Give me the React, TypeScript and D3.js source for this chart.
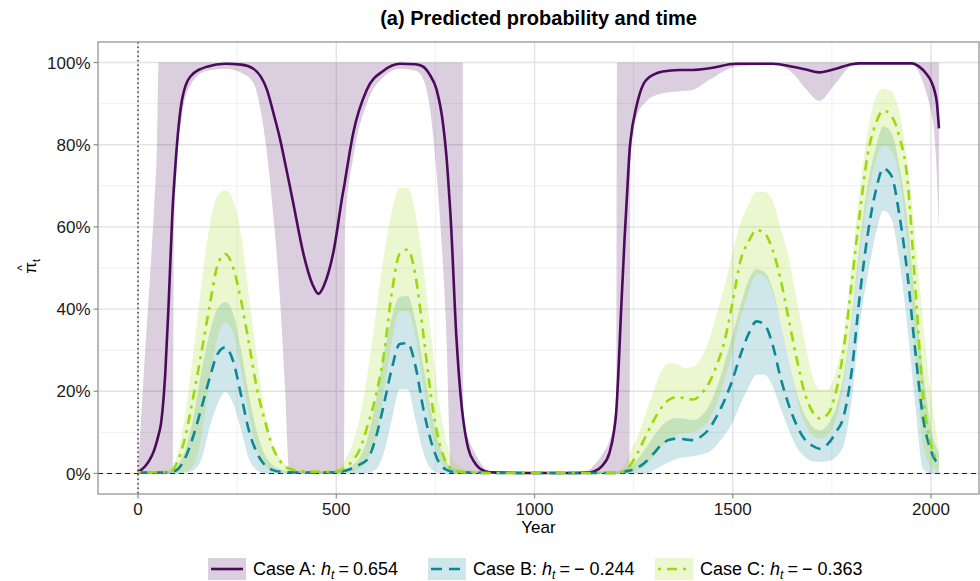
import React from 'react';
import * as d3 from 'd3';

// Case A knots (years) and predicted probability with interval
const yearsA = [
  0, 10, 20, 31, 40, 48, 52, 57, 69, 77,
  86, 88, 90, 99, 111, 132, 174, 220, 260, 291,
  310, 325, 342, 359, 371, 382, 392, 417, 440, 455,
  470, 493, 518, 520, 522, 543, 577, 619, 661, 700,
  719, 736, 753, 770, 778, 786, 788, 803, 816, 819,
  821, 833, 850, 862, 887, 1000, 1100, 1131, 1150, 1170,
  1189, 1200, 1206, 1208, 1219, 1227, 1238, 1240, 1242, 1257,
  1282, 1323, 1366, 1400, 1441, 1508, 1600, 1651, 1685, 1718,
  1760, 1800, 1819, 1952, 1970, 1987, 2000, 2008, 2015, 2020,
];
const aMid = [
  0.003, 0.01, 0.02, 0.036, 0.055, 0.08, 0.095, 0.116, 0.25, 0.41,
  0.62, 0.66, 0.69, 0.81, 0.91, 0.966, 0.99, 0.997, 0.995, 0.985,
  0.965, 0.934, 0.875, 0.81, 0.755, 0.703, 0.655, 0.535, 0.46, 0.437,
  0.46, 0.54, 0.69, 0.7, 0.712, 0.83, 0.934, 0.98, 0.997, 0.996,
  0.99, 0.97, 0.934, 0.845, 0.77, 0.66, 0.63, 0.33, 0.166, 0.14,
  0.125, 0.06, 0.025, 0.012, 0.003, 0.001, 0.001, 0.002, 0.005, 0.018,
  0.05, 0.1, 0.15, 0.18, 0.41, 0.57, 0.76, 0.79, 0.81, 0.893,
  0.958, 0.978, 0.982, 0.982, 0.986, 0.997, 0.997, 0.99, 0.983, 0.976,
  0.985, 0.996, 0.998, 0.998, 0.99, 0.974, 0.955, 0.934, 0.9, 0.84,
];
const aLo = [
  0, 0, 0, 0, 0, 0, 0, 0, 0, 0,
  0, 0, 0.55, 0.76, 0.87, 0.945, 0.98, 0.985, 0.975, 0.95,
  0.88, 0.78, 0.62, 0.41, 0.2, 0, 0, 0, 0, 0,
  0, 0, 0, 0, 0.6, 0.77, 0.9, 0.965, 0.985, 0.98,
  0.96, 0.89, 0.73, 0.49, 0.33, 0.06, 0, 0, 0, 0,
  0, 0, 0, 0, 0, 0, 0, 0, 0, 0,
  0, 0, 0, 0, 0, 0, 0, 0, 0.76, 0.865,
  0.905, 0.925, 0.93, 0.934, 0.958, 0.99, 0.995, 0.974, 0.935, 0.907,
  0.95, 0.993, 0.996, 0.996, 0.975, 0.93, 0.88, 0.83, 0.72, 0.594,
];
const aHi = [
  0.003, 0.17, 0.33, 0.49, 0.64, 0.81, 1, 1, 1, 1,
  1, 1, 1, 1, 1, 1, 1, 1, 1, 1,
  1, 1, 1, 1, 1, 1, 1, 1, 1, 1,
  1, 1, 1, 1, 1, 1, 1, 1, 1, 1,
  1, 1, 1, 1, 1, 1, 1, 1, 1, 1,
  0.13, 0.085, 0.05, 0.028, 0.006, 0.002, 0.003, 0.006, 0.02, 0.045,
  0.08, 0.12, 0.16, 1, 1, 1, 1, 1, 1, 1,
  1, 1, 1, 1, 1, 1, 1, 1, 1, 1,
  1, 1, 1, 1, 1, 1, 1, 1, 1, 1,
];

// Cases B and C share one grid of years
const yearsBC = [
  0, 40, 80, 100, 120, 140, 160, 180, 200, 220, 240, 260, 280, 300, 320, 340, 360, 380,
  420, 460, 500, 520, 540, 560, 580, 600, 620, 640, 660, 680, 700, 720, 740, 760, 780, 800,
  840, 900, 1000, 1100, 1160, 1200, 1220, 1240, 1260, 1280, 1300, 1320, 1340, 1360, 1380, 1400, 1420, 1440,
  1460, 1480, 1500, 1520, 1540, 1560, 1580, 1600, 1620, 1640, 1660, 1680, 1700, 1720, 1740, 1760, 1780, 1800,
  1820, 1840, 1860, 1880, 1900, 1920, 1940, 1960, 1980, 2000, 2020,
];
const bMid = [
  0.002, 0.002, 0.003, 0.01, 0.04, 0.093, 0.16, 0.23, 0.29, 0.307, 0.273, 0.19, 0.103, 0.05, 0.02, 0.008, 0.004, 0.003,
  0.002, 0.002, 0.003, 0.006, 0.012, 0.022, 0.036, 0.088, 0.168, 0.255, 0.315, 0.317, 0.26, 0.155, 0.075, 0.025, 0.008, 0.003,
  0.002, 0.001, 0.001, 0.001, 0.001, 0.001, 0.003, 0.007, 0.014, 0.028, 0.048, 0.07, 0.082, 0.085, 0.083, 0.081, 0.09, 0.108,
  0.14, 0.18, 0.23, 0.29, 0.34, 0.37, 0.362, 0.315, 0.235, 0.17, 0.12, 0.085, 0.068, 0.06, 0.072, 0.1, 0.14, 0.25,
  0.43, 0.58, 0.685, 0.742, 0.725, 0.63, 0.49, 0.3, 0.135, 0.055, 0.02,
];
const bLo = [
  0, 0, 0, 0, 0.002, 0.008, 0.035, 0.11, 0.168, 0.198, 0.17, 0.105, 0.035, 0.008, 0.001, 0, 0, 0,
  0, 0, 0, 0, 0, 0, 0.002, 0.01, 0.05, 0.13, 0.205, 0.205, 0.13, 0.05, 0.01, 0.001, 0, 0,
  0, 0, 0, 0, 0, 0, 0, 0, 0, 0, 0.008, 0.018, 0.028, 0.036, 0.04, 0.042, 0.046, 0.052,
  0.07, 0.095, 0.125, 0.17, 0.21, 0.24, 0.24, 0.214, 0.16, 0.11, 0.065, 0.042, 0.03, 0.028, 0.03, 0.04, 0.07, 0.18,
  0.36, 0.48, 0.58, 0.64, 0.62, 0.52, 0.36, 0.17, 0.01, 0, 0,
];
const bHi = [
  0.004, 0.004, 0.005, 0.02, 0.06, 0.14, 0.25, 0.34, 0.4, 0.417, 0.39, 0.3, 0.19, 0.1, 0.045, 0.02, 0.01, 0.006,
  0.005, 0.005, 0.006, 0.01, 0.02, 0.04, 0.09, 0.18, 0.29, 0.38, 0.43, 0.432, 0.37, 0.26, 0.15, 0.07, 0.025, 0.01,
  0.005, 0.004, 0.004, 0.004, 0.004, 0.004, 0.008, 0.015, 0.035, 0.06, 0.09, 0.115, 0.13, 0.135, 0.133, 0.13, 0.14, 0.165,
  0.21, 0.27, 0.34, 0.41, 0.47, 0.497, 0.49, 0.45, 0.37, 0.28, 0.2, 0.145, 0.115, 0.105, 0.12, 0.16, 0.24, 0.38,
  0.56, 0.7, 0.79, 0.845, 0.83, 0.75, 0.62, 0.42, 0.25, 0.11, 0.05,
];
const cMid = [
  0.003, 0.003, 0.004, 0.03, 0.093, 0.19, 0.295, 0.405, 0.505, 0.534, 0.5, 0.42, 0.315, 0.206, 0.128, 0.063, 0.028, 0.012,
  0.005, 0.004, 0.005, 0.012, 0.03, 0.06, 0.12, 0.19, 0.29, 0.44, 0.535, 0.545, 0.48, 0.335, 0.18, 0.075, 0.022, 0.006,
  0.002, 0.001, 0.001, 0.001, 0.001, 0.001, 0.003, 0.018, 0.05, 0.09, 0.128, 0.16, 0.18, 0.186, 0.183, 0.18, 0.193, 0.22,
  0.265, 0.325, 0.42, 0.52, 0.565, 0.592, 0.585, 0.545, 0.475, 0.38, 0.285, 0.2, 0.152, 0.134, 0.145, 0.198, 0.305, 0.465,
  0.63, 0.775, 0.85, 0.883, 0.87, 0.82, 0.72, 0.46, 0.19, 0.07, 0.03,
];
const cLo = [
  0, 0, 0, 0.001, 0.005, 0.02, 0.09, 0.22, 0.33, 0.368, 0.34, 0.25, 0.14, 0.06, 0.02, 0.006, 0.002, 0.001,
  0.001, 0.001, 0.001, 0.002, 0.004, 0.012, 0.035, 0.09, 0.2, 0.32, 0.395, 0.395, 0.33, 0.21, 0.1, 0.035, 0.01, 0.003,
  0.001, 0, 0, 0, 0, 0, 0, 0.002, 0.008, 0.02, 0.04, 0.065, 0.085, 0.095, 0.098, 0.1, 0.11, 0.13,
  0.17, 0.23, 0.3, 0.38, 0.44, 0.485, 0.48, 0.44, 0.37, 0.28, 0.19, 0.125, 0.095, 0.085, 0.095, 0.13, 0.22, 0.37,
  0.53, 0.67, 0.76, 0.8, 0.785, 0.72, 0.56, 0.28, 0.07, 0.015, 0.005,
];
const cHi = [
  0.005, 0.006, 0.01, 0.05, 0.15, 0.3, 0.46, 0.6, 0.675, 0.69, 0.665, 0.58, 0.43, 0.28, 0.15, 0.07, 0.035, 0.018,
  0.006, 0.005, 0.008, 0.03, 0.07, 0.14, 0.25, 0.39, 0.53, 0.635, 0.695, 0.695, 0.63, 0.5, 0.33, 0.17, 0.07, 0.025,
  0.008, 0.005, 0.005, 0.005, 0.005, 0.005, 0.01, 0.05, 0.09, 0.145, 0.2, 0.25, 0.268, 0.265, 0.256, 0.26, 0.28, 0.325,
  0.39, 0.46, 0.54, 0.61, 0.655, 0.685, 0.685, 0.665, 0.6, 0.53, 0.43, 0.33, 0.24, 0.203, 0.205, 0.25, 0.34, 0.51,
  0.69, 0.83, 0.915, 0.937, 0.93, 0.88, 0.76, 0.58, 0.37, 0.19, 0.06,
];

const xTicks = [0, 500, 1000, 1500, 2000];
const xMinor = [250, 750, 1250, 1750];
const yTicks = [0, 0.2, 0.4, 0.6, 0.8, 1];
const yMinor = [0.1, 0.3, 0.5, 0.7, 0.9];

const series = [
  { key: 'A', years: yearsA, mid: aMid, lo: aLo, hi: aHi, color: '#4b0a5c', dash: null, label: 'Case A: ', value: '0.654' },
  { key: 'B', years: yearsBC, mid: bMid, lo: bLo, hi: bHi, color: '#0e8795', dash: '11 7', label: 'Case B: ', value: '\u2212 0.244' },
  { key: 'C', years: yearsBC, mid: cMid, lo: cLo, hi: cHi, color: '#9ad90c', dash: '3 6 10 6', label: 'Case C: ', value: '\u2212 0.363' },
];

const W = 980;
const H = 581;
const panel = { left: 98, right: 979, top: 42, bottom: 494 };
const font = '"Liberation Sans", Arial, Helvetica, sans-serif';

export default function App() {
  const x = d3.scaleLinear().domain([-101, 2121]).range([panel.left, panel.right]);
  const y = d3.scaleLinear().domain([-0.05, 1.05]).range([panel.bottom, panel.top]);

  const legendX = [208, 428, 655];

  return (
    <svg width={W} height={H} style={{ position: 'absolute', left: 0, top: 0, background: '#fff' }} fontFamily={font}>
      <defs>
        <clipPath id="panel-clip">
          <rect x={panel.left} y={panel.top} width={panel.right - panel.left} height={panel.bottom - panel.top} />
        </clipPath>
      </defs>
      <rect x={0} y={0} width={W} height={H} fill="#fff" />

      {/* grid */}
      {yMinor.map(v => (
        <line key={'ym' + v} x1={panel.left} x2={panel.right} y1={y(v)} y2={y(v)} stroke="#ececec" strokeWidth={0.8} />
      ))}
      {xMinor.map(v => (
        <line key={'xm' + v} x1={x(v)} x2={x(v)} y1={panel.top} y2={panel.bottom} stroke="#ececec" strokeWidth={0.8} />
      ))}
      {yTicks.map(v => (
        <line key={'yg' + v} x1={panel.left} x2={panel.right} y1={y(v)} y2={y(v)} stroke="#e3e3e3" strokeWidth={1.4} />
      ))}
      {xTicks.map(v => (
        <line key={'xg' + v} x1={x(v)} x2={x(v)} y1={panel.top} y2={panel.bottom} stroke="#e3e3e3" strokeWidth={1.4} />
      ))}

      <g clipPath="url(#panel-clip)">
        <line x1={panel.left} x2={panel.right} y1={y(0)} y2={y(0)} stroke="#222" strokeWidth={1.1} strokeDasharray="5 4" />
        <line x1={x(0)} x2={x(0)} y1={panel.top} y2={panel.bottom} stroke="#222" strokeWidth={1.3} strokeDasharray="1.5 3" />

        {series.map(s => {
          const area = d3.area<number>()
            .x(i => x(s.years[i]))
            .y0(i => y(s.lo[i]))
            .y1(i => y(s.hi[i]))
            .curve(d3.curveMonotoneX);
          return <path key={'r' + s.key} d={area(d3.range(s.years.length)) || ''} fill={s.color} fillOpacity={0.2} />;
        })}
        {series.map(s => {
          const line = d3.line<number>()
            .x(i => x(s.years[i]))
            .y(i => y(s.mid[i]))
            .curve(d3.curveMonotoneX);
          return (
            <path key={'l' + s.key} d={line(d3.range(s.years.length)) || ''} fill="none" stroke={s.color}
              strokeWidth={2.6} strokeDasharray={s.dash || undefined} />
          );
        })}
      </g>

      <rect x={panel.left} y={panel.top} width={panel.right - panel.left} height={panel.bottom - panel.top}
        fill="none" stroke="#8c8c8c" strokeWidth={1.2} />

      {/* axes */}
      {yTicks.map(v => (
        <g key={'yt' + v}>
          <line x1={panel.left - 4.5} x2={panel.left} y1={y(v)} y2={y(v)} stroke="#8c8c8c" strokeWidth={1.2} />
          <text x={90.5} y={y(v)} dy="0.36em" textAnchor="end" fontSize={17} fill="#1a1a1a">{Math.round(v * 100) + '%'}</text>
        </g>
      ))}
      {xTicks.map(v => (
        <g key={'xt' + v}>
          <line x1={x(v)} x2={x(v)} y1={panel.bottom} y2={panel.bottom + 4.5} stroke="#8c8c8c" strokeWidth={1.2} />
          <text x={x(v)} y={515} textAnchor="middle" fontSize={17} fill="#1a1a1a">{v}</text>
        </g>
      ))}
      <text x={(panel.left + panel.right) / 2} y={533} textAnchor="middle" fontSize={17} fill="#000">Year</text>

      {/* y title: pi hat with subscript t */}
      <g transform={`translate(36, ${(panel.top + panel.bottom) / 2}) rotate(-90)`} fill="#000">
        <text x={0} y={0} textAnchor="middle" fontSize={17}>{'\u03c0'}</text>
        <text x={0} y={-10} textAnchor="middle" fontSize={12}>^</text>
        <text x={6} y={4} fontSize={11}>t</text>
      </g>

      <text x={(panel.left + panel.right) / 2} y={25} textAnchor="middle" fontSize={20} fontWeight="bold" fill="#000">
        (a) Predicted probability and time
      </text>

      {/* legend */}
      {series.map((s, i) => (
        <g key={'lg' + s.key} transform={`translate(${legendX[i]}, 558)`}>
          <rect x={0} y={0} width={38} height={22} fill={s.color} fillOpacity={0.2} />
          <line x1={3} x2={35} y1={11} y2={11} stroke={s.color} strokeWidth={2.6} strokeDasharray={s.dash || undefined} />
          <text x={45} y={17} fontSize={18} fill="#000">
            {s.label}
            <tspan fontStyle="italic">h</tspan>
            <tspan fontSize={12} dy={4} fontStyle="italic">t</tspan>
            <tspan dy={-4} dx={4}>=</tspan>
            <tspan dx={4}>{s.value}</tspan>
          </text>
        </g>
      ))}
    </svg>
  );
}
